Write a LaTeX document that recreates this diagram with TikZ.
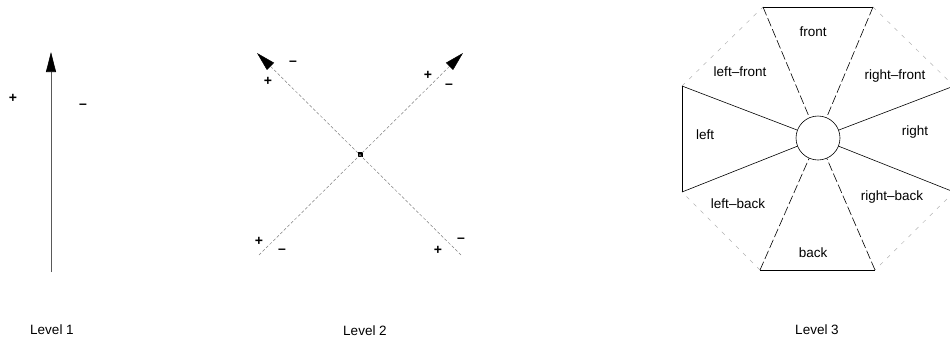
\documentclass[tikz,border=0pt]{standalone}
\usepackage{fontspec}
\setmainfont{Liberation Sans}
\usetikzlibrary{arrows.meta, positioning}

\begin{document}
\begin{tikzpicture}[
          x=1pt, y=-1pt,
          label/.style={font=\fontsize{13.5}{15}\selectfont, inner sep=0pt},
          sign/.style={font=\fontsize{14}{15}\selectfont\bfseries, inner sep=0pt},
          axis/.style={-{Triangle[length=20pt, width=10pt, color=black]}, gray!70!black, line width=0.6pt},
          diag/.style={-{Triangle[length=19pt, width=10pt, color=black]}, gray, line width=0.5pt, densely dashed},
          hub/.style={circle, draw, minimum size=44pt, inner sep=0pt, line width=0.6pt},
          spoke/.style={line width=0.6pt},
          wedge/.style={line width=0.6pt, dash pattern=on 9pt off 3pt},
          rim/.style={line width=0.7pt},
          faintrim/.style={gray!60, line width=0.5pt, dash pattern=on 4pt off 6pt}
        ]
          \useasboundingbox (0,0) rectangle (950,346);
          \clip (0,0) rectangle (950,346);

          % one axis
          \coordinate (one_base) at (51,272);
          \coordinate (one_tip) at (51,52);
          \draw [axis] (one_base) -- (one_tip);
          \node (one_plus) [sign] at (13,98) {+};
          \node (one_minus) [sign] at (83,106) {--};
          \node (one_lbl) [label] at (52,330) {Level 1};

          % two crossing axes
          \node (cross) [rectangle, fill, minimum size=5pt, inner sep=0pt] at (360,154) {};
          \coordinate (ll) at (259,255);
          \coordinate (ur) at (463,53);
          \coordinate (lr) at (461,255);
          \coordinate (ul) at (257,53);
          \draw [diag] (ll) -- (ur);
          \draw [diag] (lr) -- (ul);
          \node (ul_minus) [sign] at (293,63) {--};
          \node (ul_plus) [sign] at (268,81) {+};
          \node (ur_plus) [sign] at (428,75) {+};
          \node (ur_minus) [sign] at (449,86) {--};
          \node (ll_plus) [sign] at (259,241) {+};
          \node (ll_minus) [sign] at (282,251) {--};
          \node (lr_plus) [sign] at (438,250) {+};
          \node (lr_minus) [sign] at (461,240) {--};
          \node (two_lbl) [label] at (365,331) {Level 2};

          % eight sectors
          \node (centre) [hub] at (818,138) {};
          \coordinate (fl) at (763,7);
          \coordinate (fr) at (873,7);
          \coordinate (rf) at (954,86);
          \coordinate (rb) at (954,192);
          \coordinate (br) at (875,270);
          \coordinate (bl) at (760,270);
          \coordinate (lb) at (682,192);
          \coordinate (lf) at (682,86);

          \draw [rim] (fl) -- (fr);
          \draw [rim] (bl) -- (br);
          \draw [rim] (lf) -- (lb);
          \draw [faintrim] (fr) -- (rf);
          \draw [faintrim] (rb) -- (br);
          \draw [faintrim] (bl) -- (lb);
          \draw [faintrim] (lf) -- (fl);

          \draw [wedge] (fl) -- (centre);
          \draw [wedge] (fr) -- (centre);
          \draw [wedge] (bl) -- (centre);
          \draw [wedge] (br) -- (centre);
          \draw [spoke] (lf) -- (centre);
          \draw [spoke] (lb) -- (centre);
          \draw [spoke] (rf) -- (centre);
          \draw [spoke] (rb) -- (centre);

          \node (s_front) [label] at (813,32) {front};
          \node (s_lf) [label] at (740,72) {left--front};
          \node (s_rf) [label] at (895,76) {right--front};
          \node (s_left) [label] at (705,135) {left};
          \node (s_right) [label] at (915,132) {right};
          \node (s_lb) [label] at (738,204) {left--back};
          \node (s_rb) [label] at (892,197) {right--back};
          \node (s_back) [label] at (813,253) {back};
          \node (three_lbl) [label] at (817,330) {Level 3};
        \end{tikzpicture}
\end{document}
